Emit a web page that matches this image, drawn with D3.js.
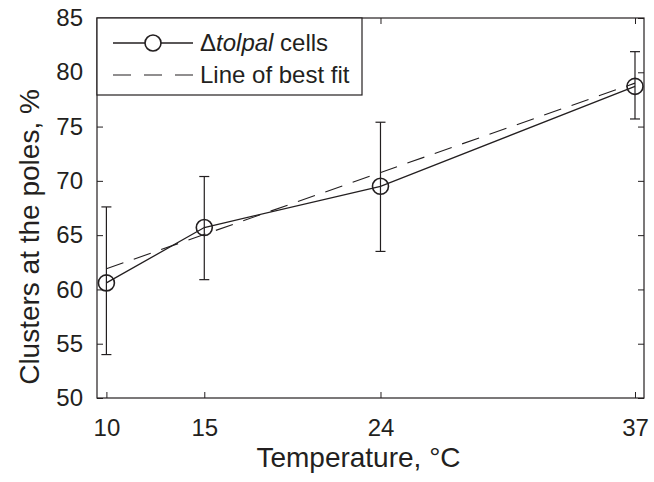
<!DOCTYPE html>
<html>
<head>
<meta charset="utf-8">
<script src="https://cdn.jsdelivr.net/npm/d3@7"></script>
<style>
  body { margin: 0; background: #fff; }
  svg { display: block; }
</style>
</head>
<body>
<div id="chart"></div>
<script>
const temps = [10, 15, 24, 37];
const clusters = [60.6, 65.7, 69.5, 78.7];
const errLow = [54.0, 60.9, 63.5, 75.7];
const errHigh = [67.6, 70.4, 75.4, 81.9];
const fitX = [10, 37];
const fitY = [61.9, 79.0];
const xTicks = [10, 15, 24, 37];
const yTicks = [50, 55, 60, 65, 70, 75, 80, 85];

const width = 654, height = 482;
const margin = { top: 18, right: 10, bottom: 84, left: 97 };
const innerWidth = width - margin.left - margin.right;
const innerHeight = height - margin.top - margin.bottom;
const ink = "#231f20";
const font = "Liberation Sans, Arial, Helvetica, sans-serif";

const svg = d3.select("#chart").append("svg")
    .attr("width", width)
    .attr("height", height)
    .style("font-family", font);

const g = svg.append("g")
    .attr("transform", `translate(${margin.left},${margin.top})`);

const x = d3.scaleLinear().domain([9.52, 37.46]).range([0, innerWidth]);
const y = d3.scaleLinear().domain([50, 85]).range([innerHeight, 0]);

// inward ticks on all four sides
const styleAxis = sel => {
    sel.select(".domain").remove();
    sel.selectAll("line").attr("stroke", ink).attr("stroke-width", 1);
    sel.selectAll("text").attr("fill", ink).style("font-size", "24px").style("font-family", font);
};
const noLabels = sel => sel.selectAll("text").remove();

g.append("g")
    .attr("transform", `translate(0,${innerHeight})`)
    .call(d3.axisBottom(x).tickValues(xTicks).tickSize(-6).tickPadding(21))
    .call(styleAxis);
g.append("g")
    .call(d3.axisTop(x).tickValues(xTicks).tickSize(-6))
    .call(styleAxis)
    .call(noLabels);
g.append("g")
    .call(d3.axisLeft(y).tickValues(yTicks).tickSize(-6).tickPadding(14))
    .call(styleAxis);
g.append("g")
    .attr("transform", `translate(${innerWidth},0)`)
    .call(d3.axisRight(y).tickValues(yTicks).tickSize(-6))
    .call(styleAxis)
    .call(noLabels);

g.append("rect")
    .attr("width", innerWidth)
    .attr("height", innerHeight)
    .attr("fill", "none")
    .attr("stroke", ink)
    .attr("stroke-width", 1.2);

// best fit
g.append("line")
    .attr("x1", x(fitX[0])).attr("y1", y(fitY[0]))
    .attr("x2", x(fitX[1])).attr("y2", y(fitY[1]))
    .attr("stroke", ink)
    .attr("stroke-width", 1.1)
    .attr("stroke-dasharray", "18,11");

// error bars
const pts = temps.map((t, i) => ({ t, v: clusters[i], lo: errLow[i], hi: errHigh[i] }));
const eb = g.selectAll(".err").data(pts).enter().append("g").attr("class", "err")
    .attr("stroke", ink).attr("stroke-width", 1.2);
eb.append("line")
    .attr("x1", d => x(d.t)).attr("x2", d => x(d.t))
    .attr("y1", d => y(d.lo)).attr("y2", d => y(d.hi));
eb.append("line")
    .attr("x1", d => x(d.t) - 5).attr("x2", d => x(d.t) + 5)
    .attr("y1", d => y(d.lo)).attr("y2", d => y(d.lo));
eb.append("line")
    .attr("x1", d => x(d.t) - 5).attr("x2", d => x(d.t) + 5)
    .attr("y1", d => y(d.hi)).attr("y2", d => y(d.hi));

// data line and markers
g.append("path")
    .datum(pts)
    .attr("fill", "none")
    .attr("stroke", ink)
    .attr("stroke-width", 1.3)
    .attr("d", d3.line().x(d => x(d.t)).y(d => y(d.v)));

g.selectAll("circle.pt")
    .data(pts)
    .enter()
    .append("circle")
    .attr("class", "pt")
    .attr("cx", d => x(d.t))
    .attr("cy", d => y(d.v))
    .attr("r", 8)
    .attr("fill", "none")
    .attr("stroke", ink)
    .attr("stroke-width", 1.6);

// axis titles
svg.append("text")
    .attr("x", margin.left + innerWidth / 2 - 12)
    .attr("y", 467)
    .attr("text-anchor", "middle")
    .attr("fill", ink)
    .style("font-size", "28px")
    .text("Temperature, °C");

svg.append("text")
    .attr("transform", "translate(39,237) rotate(-90)")
    .attr("text-anchor", "middle")
    .attr("fill", ink)
    .style("font-size", "28px")
    .text("Clusters at the poles, %");

// legend
const legend = g.append("g");
legend.append("rect")
    .attr("width", 265)
    .attr("height", 77)
    .attr("fill", "#fff")
    .attr("stroke", ink)
    .attr("stroke-width", 1.2);

legend.append("line")
    .attr("x1", 16).attr("x2", 96).attr("y1", 25).attr("y2", 25)
    .attr("stroke", ink).attr("stroke-width", 1.3);
legend.append("circle")
    .attr("cx", 56).attr("cy", 25).attr("r", 8)
    .attr("fill", "#fff").attr("stroke", ink).attr("stroke-width", 1.6);
legend.append("line")
    .attr("x1", 16).attr("x2", 96).attr("y1", 57).attr("y2", 57)
    .attr("stroke", ink).attr("stroke-width", 1.1)
    .attr("stroke-dasharray", "18,13");

const t1 = legend.append("text")
    .attr("x", 103).attr("y", 25)
    .attr("dy", "0.35em")
    .attr("fill", ink)
    .style("font-size", "24px");
t1.append("tspan").text("Δ");
t1.append("tspan").style("font-style", "italic").text("tolpal");
t1.append("tspan").text(" cells");

legend.append("text")
    .attr("x", 103).attr("y", 57)
    .attr("dy", "0.35em")
    .attr("fill", ink)
    .style("font-size", "24px")
    .text("Line of best fit");
</script>
</body>
</html>
